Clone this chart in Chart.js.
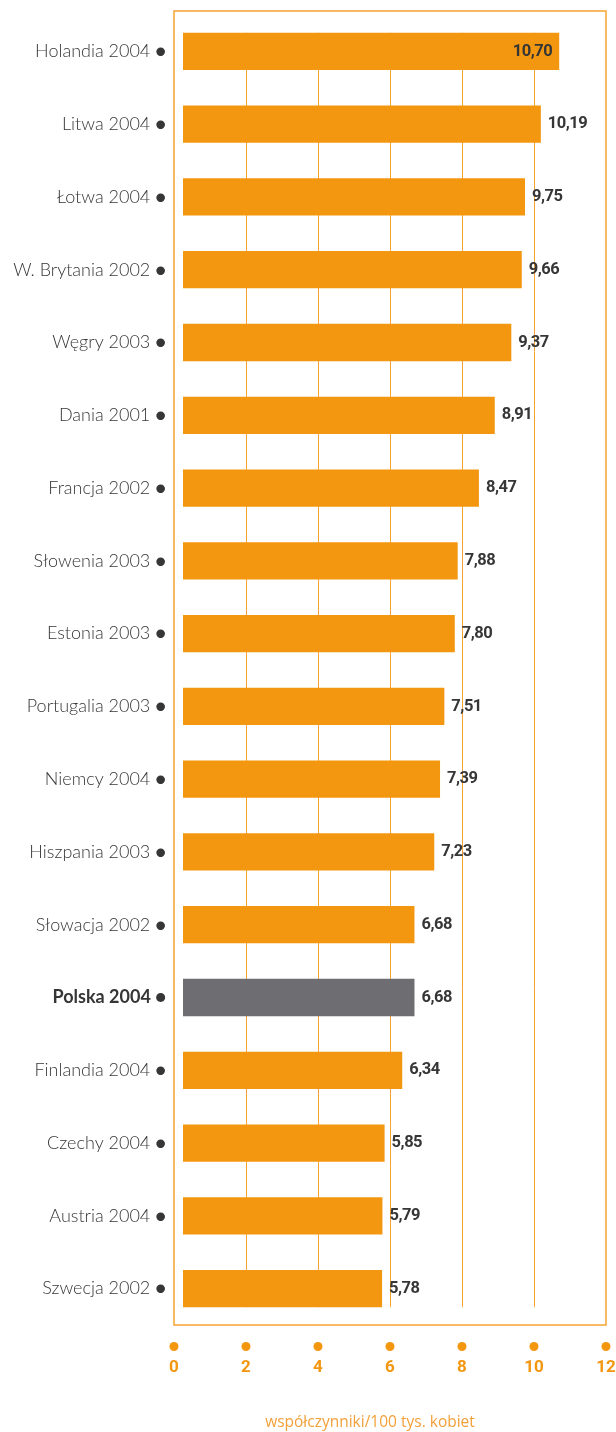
<!DOCTYPE html>
<html>
<head>
<meta charset="utf-8">
<script src="https://cdn.jsdelivr.net/npm/chart.js@4/dist/chart.umd.min.js"></script>
<style>
  body { margin: 0; background: #fff; }
  #wrap { position: relative; width: 616px; height: 1432px; }
  #axisTitle {
    position: absolute; left: 220px; width: 300px; top: 1410px;
    text-align: center; font-family: "Open Sans", sans-serif; font-size: 15.5px;
    color: #f2a03a;
  }
</style>
</head>
<body>
<div id="wrap">
  <canvas id="myChart" width="616" height="1432"></canvas>
  <div id="axisTitle">współczynniki/100 tys. kobiet</div>
</div>
<script>
const countries = [
  "Holandia 2004", "Litwa 2004", "Łotwa 2004", "W. Brytania 2002", "Węgry 2003",
  "Dania 2001", "Francja 2002", "Słowenia 2003", "Estonia 2003", "Portugalia 2003",
  "Niemcy 2004", "Hiszpania 2003", "Słowacja 2002", "Polska 2004", "Finlandia 2004",
  "Czechy 2004", "Austria 2004", "Szwecja 2002"
];
const rates = [10.70, 10.19, 9.75, 9.66, 9.37, 8.91, 8.47, 7.88, 7.80, 7.51,
  7.39, 7.23, 6.68, 6.68, 6.34, 5.85, 5.79, 5.78];
const highlight = "Polska 2004";
const xTicks = [0, 2, 4, 6, 8, 10, 12];

const orange = "#f39710";
const lineOrange = "#f5a332";
const grey = "#6e6d72";
const textDark = "#363636";

const fmt = (v) => v.toFixed(2).replace(".", ",");

const framePlugin = {
  id: "frame",
  beforeDatasetsDraw(chart) {
    const { ctx, chartArea } = chart;
    const x = chart.scales.x;
    const bars = chart.getDatasetMeta(0).data;
    const top = bars[0].y - bars[0].height / 2;
    const bottom = bars[bars.length - 1].y + bars[bars.length - 1].height / 2;
    ctx.save();
    ctx.strokeStyle = lineOrange;
    ctx.lineWidth = 1;
    xTicks.slice(1, -1).forEach((t) => {
      const px = Math.round(x.getPixelForValue(t)) + 0.5;
      ctx.beginPath();
      ctx.moveTo(px, top);
      ctx.lineTo(px, bottom);
      ctx.stroke();
    });
    ctx.lineWidth = 1.5;
    ctx.strokeRect(chartArea.left, chartArea.top - 4, chartArea.right - chartArea.left, chartArea.bottom - chartArea.top + 4);
    ctx.restore();
  },
  afterDraw(chart) {
    const { ctx, chartArea } = chart;
    const x = chart.scales.x;
    const bars = chart.getDatasetMeta(0).data;
    ctx.save();
    // value labels
    ctx.font = "bold 16.5px Roboto";
    ctx.letterSpacing = "-0.5px";
    ctx.textBaseline = "middle";
    ctx.fillStyle = textDark;
    bars.forEach((bar, i) => {
      const txt = fmt(rates[i]);
      const w = ctx.measureText(txt).width;
      if (bar.x + 7 + w > chartArea.right - 6) {
        ctx.textAlign = "right";
        ctx.fillText(txt, bar.x - 7, bar.y);
      } else {
        ctx.textAlign = "left";
        ctx.fillText(txt, bar.x + 7, bar.y);
      }
    });
    // dots above x tick labels
    ctx.fillStyle = orange;
    xTicks.forEach((t) => {
      ctx.beginPath();
      ctx.arc(x.getPixelForValue(t), chartArea.bottom + 21.5, 4.5, 0, Math.PI * 2);
      ctx.fill();
    });
    ctx.restore();
  }
};

const data = {
  labels: countries.map((c) => c + " ●"),
  datasets: [
    {
      data: rates,
      base: 0.25,
      backgroundColor: countries.map((c) => (c === highlight ? grey : orange)),
      borderWidth: 0,
      barPercentage: 0.512,
      categoryPercentage: 1,
    },
  ],
};

const config = {
  type: "bar",
  data: data,
  options: {
    indexAxis: "y",
    responsive: false,
    animation: false,
    layout: { padding: { top: 15, right: 0, bottom: 53, left: 0 } },
    plugins: { legend: { display: false }, tooltip: { enabled: false } },
    scales: {
      x: {
        min: 0,
        max: 12,
        grid: { display: false, drawTicks: false },
        border: { display: false },
        afterFit: (scale) => {
          scale.height = 54;
          scale.paddingRight = 10;
          scale.paddingLeft = 0;
        },
        ticks: {
          stepSize: 2,
          padding: 33,
          maxRotation: 0,
          color: orange,
          font: { family: "Roboto", size: 17, weight: "bold" },
        },
      },
      y: {
        grid: { display: false, drawTicks: false },
        border: { display: false },
        afterFit: (scale) => {
          scale.width = 174;
          scale.paddingTop = 0;
          scale.paddingBottom = 0;
        },
        ticks: {
          padding: 8,
          color: textDark,
          font: (ctx) => ({
            family: "Lato",
            size: 18,
            weight: countries[ctx.index] === highlight ? "bold" : "300",
          }),
        },
      },
    },
  },
  plugins: [framePlugin],
};

const myChart = new Chart(document.getElementById("myChart").getContext("2d"), config);
</script>
</body>
</html>
